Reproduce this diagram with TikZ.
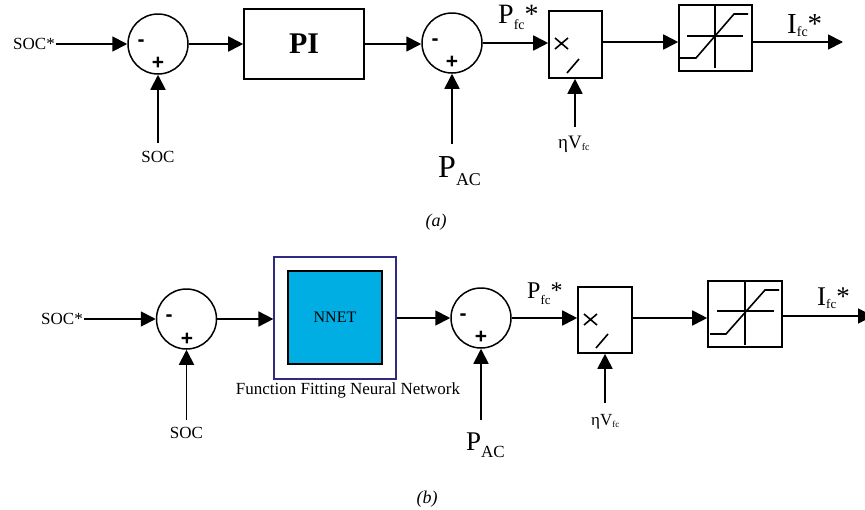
\documentclass[tikz,border=0pt]{standalone}
\usepackage{fontspec}
\setmainfont{Liberation Serif}
\newfontfamily\sgnfont{Liberation Sans}
\usetikzlibrary{arrows.meta}
\definecolor{navyb}{RGB}{48,42,130}
\definecolor{nncyan}{RGB}{0,174,228}
\newcommand{\fs}[1]{\fontsize{#1}{#1}\selectfont}
\begin{document}
\begin{tikzpicture}[x=1pt,y=-1pt,
  ln/.style={line width=1.8pt},
  arr/.style={ln,-{Triangle[length=15pt,width=15pt]}},
  sumc/.style={draw,circle,line width=1.5pt,minimum size=60pt,inner sep=0pt},
  blk/.style={draw,rectangle,line width=1.6pt,inner sep=0pt},
  inner/.style={line width=1.6pt},
  txt/.style={inner sep=1pt,font=\fs{17}},
  sgn/.style={inner sep=0pt,font=\sgnfont\bfseries\fs{21}}]
\useasboundingbox (0,0) rectangle (865,509);

% ===================== (a) =====================
\node[txt,anchor=east] (socsa) at (56,44) {SOC*};
\node[sumc] (s1a) at (158,44) {};
\node[sgn] at (141,43) {-};
\node[sgn] at (158,63) {+};
\coordinate (soca0) at (158,143);
\node[txt] (soca) at (158,157) {SOC};
\node[blk,minimum width=120pt,minimum height=70pt] (pia) at (304,44) {\fs{30}\bfseries PI};
\node[sumc] (s2a) at (452,43) {};
\node[sgn] at (435,42) {-};
\node[sgn] at (452,62) {+};
\coordinate (paca0) at (452,144);
\node[inner sep=0pt,anchor=base west] (paca) at (438,177) {\fs{32}P\raisebox{-8pt}{\fs{18}AC}};
\node[blk,minimum width=53pt,minimum height=67pt] (mula) at (575.5,44.5) {};
\draw[inner] (555,38) -- (568,49) (555,49) -- (568,38);
\draw[inner] (567,73) -- (579,59);
\coordinate (etaa0) at (575,127);
\node[inner sep=0pt,anchor=base west] (etaa) at (558,148) {\fs{19}ηV\raisebox{-2pt}{\fs{10}fc}};
\node[inner sep=0pt,anchor=base west] (pfca) at (498,23) {\fs{28}P\raisebox{-6pt}{\fs{14}fc}*};
\node[blk,minimum width=73pt,minimum height=66pt] (sata) at (715.5,38) {};
\draw[inner] (715,6) -- (715,68) (687,36) -- (743,36);
\draw[inner] (680,58) -- (696,58) -- (734,14) -- (748,14);
\coordinate (outa) at (843,42);
\node[inner sep=0pt,anchor=base west] (ifca) at (787,33) {\fs{29}I\raisebox{-3pt}{\fs{14}fc}*};
\node[txt,font=\itshape\fs{18}] (capa) at (436,222) {(a)};

\draw[arr] (socsa.east) -- (s1a.west);
\draw[arr] (soca0) -- (s1a.south);
\draw[arr] (s1a.east) -- (pia.west);
\draw[arr] (pia.east) -- (pia.east -| s2a.west);
\draw[arr] (paca0) -- (s2a.south);
\draw[arr] (s2a.east) -- (s2a.east -| mula.west);
\draw[arr] (etaa0) -- (mula.south -| etaa0);
\draw[arr] (mula.east |- 0,42) -- (sata.west |- 0,42);
\draw[arr] (sata.east |- outa) -- (outa);

% ===================== (b) =====================
\node[txt,anchor=east] (socsb) at (84,319) {SOC*};
\node[sumc] (s1b) at (186.5,319) {};
\node[sgn] at (169,318) {-};
\node[sgn] at (187,339) {+};
\coordinate (socb0) at (186.5,420);
\node[txt] (socb) at (186.5,433) {SOC};
\node[draw=navyb,line width=1.2pt,minimum width=122pt,minimum height=122pt,inner sep=0pt] (nnout) at (335,318) {};
\node[draw,fill=nncyan,line width=1.5pt,minimum width=94pt,minimum height=93pt,inner sep=0pt,font=\fs{16}] (nnet) at (335,317.5) {NNET};
\node[txt,font=\fs{17}] (ffnn) at (348,390) {Function Fitting Neural Network};
\node[sumc] (s2b) at (481,318) {};
\node[sgn] at (463,317) {-};
\node[sgn] at (481,337) {+};
\coordinate (pacb0) at (481,420);
\node[inner sep=0pt,anchor=base west] (pacb) at (466,450) {\fs{27}P\raisebox{-7pt}{\fs{17}AC}};
\node[blk,minimum width=54pt,minimum height=66pt] (mulb) at (605,320) {};
\draw[inner] (584,314) -- (597,325) (584,325) -- (597,314);
\draw[inner] (596,348) -- (608,334);
\coordinate (etab0) at (605,403);
\node[inner sep=0pt,anchor=base west] (etab) at (591,425) {\fs{17}ηV\raisebox{-2pt}{\fs{9}fc}};
\node[inner sep=0pt,anchor=base west] (pfcb) at (527,298) {\fs{24}P\raisebox{-6pt}{\fs{13}fc}*};
\node[blk,minimum width=74pt,minimum height=66pt] (satb) at (745,314) {};
\draw[inner] (745,282) -- (745,345) (717,311) -- (774,311);
\draw[inner] (710,334) -- (726,334) -- (765,290) -- (779,290);
\coordinate (outb) at (873,316);
\node[inner sep=0pt,anchor=base west] (ifcb) at (817,305) {\fs{27}I\raisebox{-3pt}{\fs{13}fc}*};
\node[txt,font=\itshape\fs{18}] (capb) at (427,499) {(b)};

\draw[arr] (socsb.east) -- (s1b.west);
\draw[arr] (socb0) -- (s1b.south);
\draw[arr] (s1b.east) -- (s1b.east -| nnout.west);
\draw[arr] (nnout.east) -- (nnout.east -| s2b.west);
\draw[arr] (pacb0) -- (s2b.south);
\draw[arr] (s2b.east) -- (s2b.east -| mulb.west);
\draw[arr] (etab0) -- (mulb.south -| etab0);
\draw[arr] (mulb.east |- 0,318) -- (satb.west |- 0,318);
\draw[arr] (satb.east |- outb) -- (outb);
\end{tikzpicture}
\end{document}
